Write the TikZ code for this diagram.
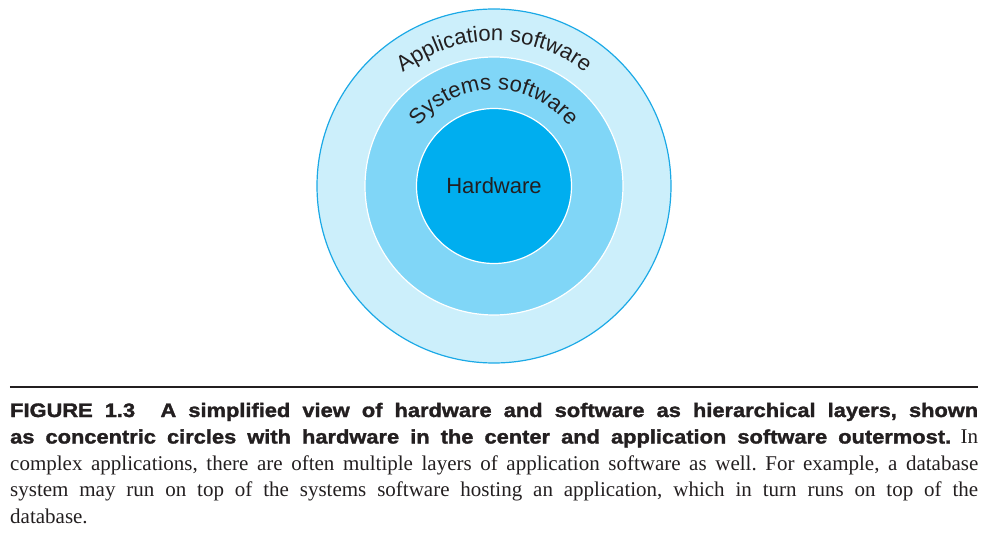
\documentclass[tikz,border=0pt]{standalone}
\usepackage{fontspec}
\setsansfont{Liberation Sans}
\setmainfont{Liberation Serif}
\newfontfamily\capfont[FakeStretch=1.12,FakeBold=1.6]{Liberation Sans Bold}
\usetikzlibrary{decorations.text}
\definecolor{appblue}{HTML}{CCEFFB}
\definecolor{sysblue}{HTML}{80D6F7}
\definecolor{hwblue}{HTML}{00AEEF}
\definecolor{rimblue}{HTML}{1BA9E6}
\definecolor{inktext}{HTML}{231F20}

\begin{document}
\frenchspacing
\begin{tikzpicture}[x=1pt,y=1pt,
    layerfont/.style={font=\sffamily\fontsize{22}{26}\selectfont},
    ringtext/.style={decorate,decoration={text along path,text align=center,
        text={|\sffamily\fontsize{22}{26}\selectfont\color{inktext}|#1}}}]
    \useasboundingbox (-494,-349) rectangle (501,186);
    \coordinate (c) at (0,0);
    \foreach \r/\col/\rim in {177/appblue/rimblue,129/sysblue/white,77.5/hwblue/white}
        \filldraw[fill=\col,draw=\rim,line width=1.2pt] (c) circle (\r pt);
    \path[ringtext=Application software] ([shift={(180:145pt)}]c) arc[start angle=180,end angle=0,radius=145pt];
    \path[ringtext=Systems software] ([shift={(180:96pt)}]c) arc[start angle=180,end angle=0,radius=96pt];
    \node[layerfont,text=inktext] (hw) at (c) {Hardware};
    \coordinate (ruleL) at (-484,-201);
    \coordinate (ruleR) at (484,-201);
    \draw[line width=1.5pt,inktext] (ruleL) -- (ruleR);
    \node[anchor=base west,inner sep=0pt,text width=968pt,align=justify,text=inktext,
        font=\fontsize{21}{26.5}\selectfont] (caption) at (-484,-231)
        {{\capfont\fontsize{19.5}{26.5}\selectfont FIGURE 1.3\hspace{1.3em}A simplified view of hardware and software as hierarchical layers, shown\linebreak
        as concentric circles with hardware in the center and application software outermost.} In\linebreak
        complex applications, there are often multiple layers of application software as well. For example, a database\linebreak
        system may run on top of the systems software hosting an application, which in turn runs on top of the\linebreak
        database.};
\end{tikzpicture}
\end{document}
